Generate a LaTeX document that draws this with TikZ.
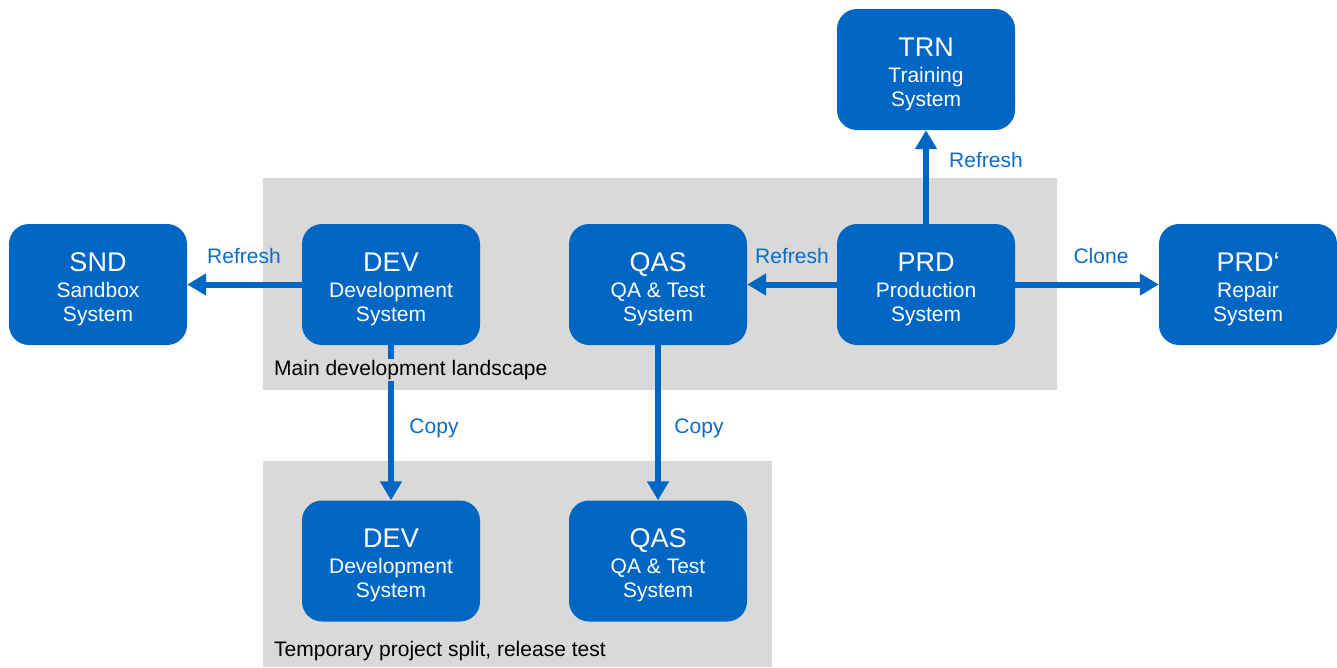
\documentclass[tikz,border=0pt]{standalone}
\usepackage{fontspec}
\setmainfont{Liberation Sans}
\usetikzlibrary{arrows.meta}

\definecolor{sysB}{HTML}{0066C4}
\definecolor{lblB}{HTML}{0A6DC6}
\definecolor{landG}{HTML}{D9D9D9}

\tikzset{
  sysbox/.style={fill=sysB, text=white, rounded corners=20pt, minimum width=178pt,
    minimum height=121pt, align=center, inner sep=0pt, font=\fontsize{21}{24}\selectfont},
  flow/.style={draw=sysB, line width=6pt, -{Triangle[length=19pt,width=21pt]}},
  flowlbl/.style={text=lblB, font=\fontsize{21}{24}\selectfont},
  landlbl/.style={font=\fontsize{21}{24}\selectfont, fill=landG, inner sep=1pt, anchor=west},
}
\newcommand{\systxt}[3]{{\fontsize{27}{28}\selectfont\rule{0pt}{28pt}#1}\\[2pt]#2\\#3}

\begin{document}
\begin{tikzpicture}[x=1pt, y=-1pt]
    \useasboundingbox (0,0) rectangle (1337,667);

    % landscapes
    \fill[landG] (263,178) rectangle (1057,390);
    \fill[landG] (263,461) rectangle (772,667);

    % systems
    \node[sysbox] (trn) at (926,69.5) {\systxt{TRN}{Training}{System}};
    \node[sysbox] (snd) at (98,284.5) {\systxt{SND}{Sandbox}{System}};
    \node[sysbox] (dev) at (391,284.5) {\systxt{DEV}{Development}{System}};
    \node[sysbox] (qas) at (658,284.5) {\systxt{QAS}{QA \& Test}{System}};
    \node[sysbox] (prd) at (926,284.5) {\systxt{PRD}{Production}{System}};
    \node[sysbox] (prdc) at (1248,284.5) {\systxt{PRD‘}{Repair}{System}};
    \node[sysbox] (devp) at (391,561) {\systxt{DEV}{Development}{System}};
    \node[sysbox] (qasp) at (658,561) {\systxt{QAS}{QA \& Test}{System}};

    % transports
    \draw[flow] (dev) -- (snd);
    \draw[flow] (prd) -- (qas);
    \draw[flow] (prd) -- (prdc);
    \draw[flow] (prd) -- (trn);
    \draw[flow] (dev) -- (devp);
    \draw[flow] (qas) -- (qasp);

    \node[flowlbl] (lsnd) at (244,256) {Refresh};
    \node[flowlbl] (lqas) at (792,256) {Refresh};
    \node[flowlbl] (lprdc) at (1101,256) {Clone};
    \node[flowlbl] (ltrn) at (986,160) {Refresh};
    \node[flowlbl] (ldevp) at (434,428) {Copy};
    \node[flowlbl] (lqasp) at (699,428) {Copy};

    % landscape names
    \node[landlbl] (lmain) at (273,370) {Main development landscape};
    \node[landlbl] (ltemp) at (273,651) {Temporary project split, release test};
\end{tikzpicture}
\end{document}
